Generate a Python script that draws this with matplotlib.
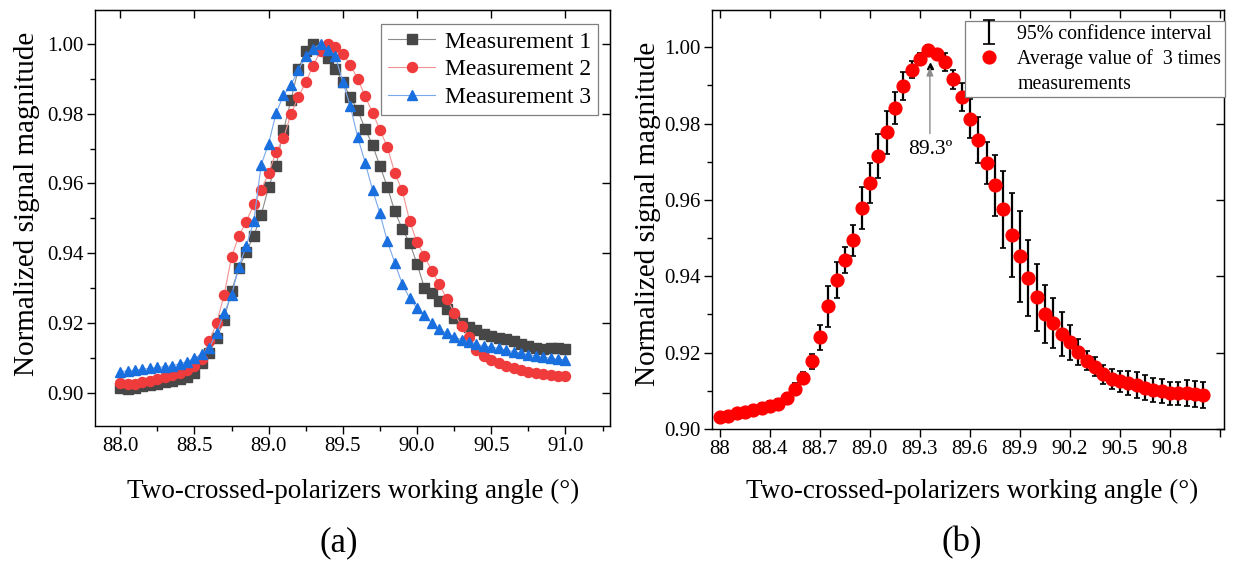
import matplotlib
matplotlib.use("Agg")
import matplotlib.pyplot as plt
from matplotlib.ticker import MultipleLocator, FormatStrFormatter, NullLocator
from matplotlib.legend_handler import HandlerErrorbar
from matplotlib.lines import Line2D

plt.rcParams['font.family'] = ['Liberation Serif', 'DejaVu Serif']

# ---- panel (a): three measurements, 88.00 .. 91.00 step 0.05 ----
angle = [88.00 + 0.05 * i for i in range(61)]

meas1 = [0.9013, 0.9012, 0.9015, 0.9019, 0.9022, 0.9026, 0.9030, 0.9034, 0.9039, 0.9046,
         0.9058, 0.9085, 0.9115, 0.9157, 0.9210, 0.9293, 0.9358, 0.9405, 0.9450, 0.9510,
         0.9590, 0.9650, 0.9752, 0.9838, 0.9929, 0.9979, 1.0000, 0.9985, 0.9960, 0.9929,
         0.9890, 0.9848, 0.9810, 0.9757, 0.9710, 0.9650, 0.9590, 0.9520, 0.9470, 0.9430,
         0.9370, 0.9300, 0.9285, 0.9262, 0.9240, 0.9215, 0.9200, 0.9190, 0.9180, 0.9168,
         0.9162, 0.9158, 0.9154, 0.9148, 0.9140, 0.9135, 0.9130, 0.9127, 0.9128, 0.9130,
         0.9126]
meas2 = [0.9027, 0.9024, 0.9026, 0.9030, 0.9034, 0.9039, 0.9045, 0.9050, 0.9057, 0.9065,
         0.9078, 0.9098, 0.9148, 0.9201, 0.9280, 0.9390, 0.9450, 0.9491, 0.9540, 0.9581,
         0.9629, 0.9690, 0.9730, 0.9798, 0.9848, 0.9890, 0.9938, 0.9980, 1.0000, 0.9990,
         0.9971, 0.9940, 0.9900, 0.9850, 0.9803, 0.9754, 0.9704, 0.9630, 0.9580, 0.9493,
         0.9431, 0.9391, 0.9350, 0.9311, 0.9270, 0.9230, 0.9191, 0.9161, 0.9123, 0.9106,
         0.9095, 0.9085, 0.9077, 0.9070, 0.9065, 0.9060, 0.9056, 0.9054, 0.9051, 0.9049,
         0.9048]
meas3 = [0.9061, 0.9063, 0.9065, 0.9068, 0.9070, 0.9073, 0.9075, 0.9078, 0.9083, 0.9089,
         0.9100, 0.9110, 0.9130, 0.9171, 0.9228, 0.9280, 0.9362, 0.9422, 0.9492, 0.9654,
         0.9714, 0.9801, 0.9853, 0.9882, 0.9925, 0.9964, 0.9986, 1.0000, 0.9983, 0.9964,
         0.9891, 0.9822, 0.9733, 0.9660, 0.9582, 0.9514, 0.9434, 0.9373, 0.9312, 0.9271,
         0.9243, 0.9223, 0.9200, 0.9182, 0.9171, 0.9161, 0.9152, 0.9147, 0.9140, 0.9134,
         0.9131, 0.9128, 0.9123, 0.9118, 0.9114, 0.9109, 0.9106, 0.9103, 0.9099, 0.9096,
         0.9095]

# ---- panel (b): average of 3 measurements with 95% CI (categorical x) ----
avg = [0.9032, 0.9035, 0.9042, 0.9044, 0.9050, 0.9055, 0.9061, 0.9066, 0.9080, 0.9105,
       0.9134, 0.9177, 0.9240, 0.9321, 0.9391, 0.9443, 0.9494, 0.9580, 0.9645, 0.9715,
       0.9777, 0.9841, 0.9898, 0.9941, 0.9970, 0.9993, 0.9981, 0.9961, 0.9916, 0.9870,
       0.9813, 0.9757, 0.9697, 0.9639, 0.9575, 0.9507, 0.9452, 0.9396, 0.9345, 0.9302,
       0.9277, 0.9249, 0.9227, 0.9201, 0.9179, 0.9163, 0.9144, 0.9131, 0.9125, 0.9120,
       0.9115, 0.9108, 0.9102, 0.9099, 0.9094, 0.9094, 0.9094, 0.9092, 0.9090]
ci95 = [0.0010, 0.0010, 0.0010, 0.0010, 0.0011, 0.0012, 0.0013, 0.0013, 0.0015, 0.0015,
        0.0015, 0.0020, 0.0033, 0.0054, 0.0047, 0.0035, 0.0041, 0.0055, 0.0053, 0.0057,
        0.0057, 0.0042, 0.0037, 0.0022, 0.0016, 0.0014, 0.0013, 0.0023, 0.0025, 0.0036,
        0.0051, 0.0060, 0.0056, 0.0080, 0.0100, 0.0110, 0.0120, 0.0100, 0.0087, 0.0076,
        0.0066, 0.0058, 0.0046, 0.0034, 0.0025, 0.0025, 0.0025, 0.0025, 0.0027, 0.0032,
        0.0035, 0.0033, 0.0032, 0.0032, 0.0030, 0.0030, 0.0034, 0.0033, 0.0034]
idx = list(range(len(avg)))
tick_pos_b = list(range(0, 61, 6))
tick_labels_b = ['88', '88.4', '88.7', '89.0', '89.3', '89.6', '89.9', '90.2', '90.5', '90.8', '']


class WideCapHandler(HandlerErrorbar):
    # legend I-beam with wider caps than the ones on the plot
    def create_artists(self, *args, **kwargs):
        arts = super().create_artists(*args, **kwargs)
        for a in arts:
            if isinstance(a, Line2D) and a.get_marker() == '_':
                a.set_markersize(9)
        return arts


fig = plt.figure(figsize=(12.37, 5.66), dpi=100)


def frame(ax):
    for s in ax.spines.values():
        s.set_linewidth(1.0)
    ax.tick_params(which='major', direction='out', length=6, pad=2, labelsize=15, width=1.0)
    ax.tick_params(which='minor', direction='out', length=3.5, width=1.0)
    ax.tick_params(top=False, right=False, which='both')


# ---------------- (a) ----------------
ax1 = fig.add_axes([0.0768, 0.2473, 0.4163, 0.735])
ax1.plot(angle, meas1, color='#8a8a8a', lw=0.8, marker='s', ms=6.5,
         mfc='#474747', mec='#474747', label='Measurement 1')
ax1.plot(angle, meas2, color='#f39393', lw=0.8, marker='o', ms=7.2,
         mfc='#ef3b3b', mec='#ef3b3b', label='Measurement 2')
ax1.plot(angle, meas3, color='#7aa8ee', lw=0.8, marker='^', ms=7.8,
         mfc='#1a6fdf', mec='#1a6fdf', label='Measurement 3')
ax1.set_xlim(87.83, 91.30)
ax1.set_ylim(0.8905, 1.0097)
ax1.xaxis.set_major_locator(MultipleLocator(0.5))
ax1.xaxis.set_minor_locator(MultipleLocator(0.25))
ax1.yaxis.set_major_locator(MultipleLocator(0.02))
ax1.yaxis.set_minor_locator(MultipleLocator(0.01))
ax1.xaxis.set_major_formatter(FormatStrFormatter('%.1f'))
ax1.yaxis.set_major_formatter(FormatStrFormatter('%.2f'))
frame(ax1)
top1 = ax1.secondary_xaxis('top')
top1.set_xticks([88.0, 88.5, 89.0, 89.5, 90.0, 90.5, 91.0])
top1.tick_params(direction='in', length=6, width=1.0, labeltop=False)
top1.xaxis.set_minor_locator(NullLocator())
right1 = ax1.secondary_yaxis('right')
right1.set_yticks([0.90, 0.92, 0.94, 0.96, 0.98, 1.00])
right1.tick_params(direction='in', length=6, width=1.0, labelright=False)
right1.yaxis.set_minor_locator(NullLocator())
ax1.set_xlabel('Two-crossed-polarizers working angle (°)', fontsize=19.5)
ax1.set_ylabel('Normalized signal magnitude', fontsize=21)
ax1.xaxis.set_label_coords(0.501, -0.128)
ax1.yaxis.set_label_coords(-0.107, 0.534)
leg1 = ax1.legend(loc='upper right', bbox_to_anchor=(598 / 1237, 1 - 24 / 566),
                  bbox_transform=fig.transFigure, borderaxespad=0, fontsize=17,
                  numpoints=1, handlelength=2.0, handletextpad=0.4, labelspacing=0.26,
                  borderpad=0.3, fancybox=False, framealpha=1, edgecolor='#7f7f7f')
leg1.get_frame().set_linewidth(0.9)

# ---------------- (b) ----------------
ax2 = fig.add_axes([0.5756, 0.242, 0.4139, 0.740])
ci_bars = ax2.errorbar(idx, avg, yerr=ci95, fmt='none', ecolor='black', elinewidth=1.6,
                       capsize=2, capthick=1.2)
avg_pts, = ax2.plot(idx, avg, 'o', color='#ff0000', ms=9.2, mec='#ff0000')
ax2.set_xlim(-0.95, 60.5)
ax2.set_ylim(0.90, 1.0097)
ax2.set_xticks(tick_pos_b)
ax2.set_xticklabels(tick_labels_b)
ax2.yaxis.set_major_locator(MultipleLocator(0.02))
ax2.yaxis.set_minor_locator(MultipleLocator(0.01))
ax2.yaxis.set_major_formatter(FormatStrFormatter('%.2f'))
frame(ax2)
top2 = ax2.secondary_xaxis('top')
top2.set_xticks(tick_pos_b)
top2.tick_params(direction='in', length=6, width=1.0, labeltop=False)
right2 = ax2.secondary_yaxis('right')
right2.set_yticks([0.90, 0.92, 0.94, 0.96, 0.98, 1.00])
right2.tick_params(direction='in', length=6, width=1.0, labelright=False)
right2.yaxis.set_minor_locator(NullLocator())
ax2.set_xlabel('Two-crossed-polarizers working angle (°)', fontsize=19.5)
ax2.set_ylabel('Normalized signal magnitude', fontsize=21)
ax2.xaxis.set_label_coords(0.508, -0.12)
ax2.yaxis.set_label_coords(-0.0996, 0.513)

ax2.annotate('', xy=(25.2, 0.9948), xytext=(25.2, 0.9774),
             arrowprops=dict(arrowstyle='-|>,head_length=0.5,head_width=0.2',
                             color='#8c8c8c', lw=1.0, shrinkA=0, shrinkB=0))
ax2.plot([25.2], [0.9952], marker='^', ms=5, color='black')
ax2.text(25.2, 0.9732, '89.3º', fontsize=15.5, ha='center', va='center')

# second text line of the circle entry gets its own row so the dot sits on the first line
blank = Line2D([], [], linestyle='none')
leg2 = ax2.legend([ci_bars, avg_pts, blank],
                  ['95% confidence interval', 'Average value of  3 times', 'measurements'],
                  loc='upper right', bbox_to_anchor=(1225 / 1237, 1 - 21 / 566),
                  bbox_transform=fig.transFigure, borderaxespad=0, fontsize=14.3,
                  numpoints=1, handlelength=2.0, handletextpad=0.45, labelspacing=0.28,
                  borderpad=0.18, fancybox=False, framealpha=1, edgecolor='#7f7f7f',
                  handler_map={type(ci_bars): WideCapHandler(yerr_size=0.6)})
leg2.get_frame().set_linewidth(0.9)

fig.text(339 / 1237, 1 - 543 / 566, '(a)', fontsize=25, ha='center', va='center')
fig.text(962 / 1237, 1 - 543 / 566, '(b)', fontsize=25, ha='center', va='center')

fig.savefig('out.png', dpi=100)
